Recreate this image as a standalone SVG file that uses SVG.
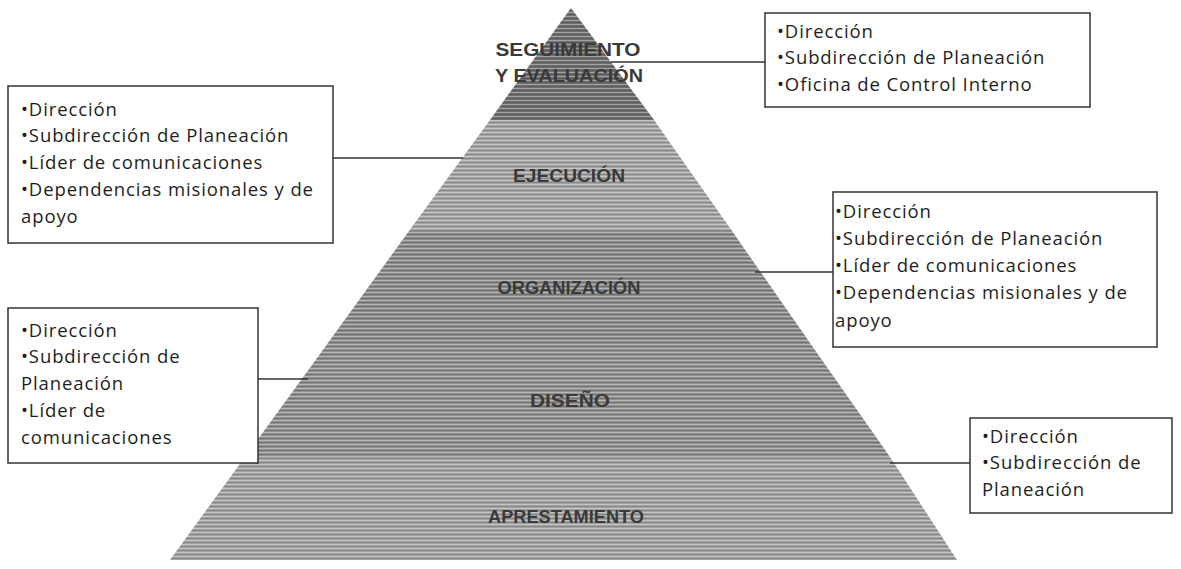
<svg xmlns="http://www.w3.org/2000/svg" width="1181" height="569" viewBox="0 0 1181 569">
<style>
.box{fill:#ffffff;stroke:#333333;stroke-width:1.5}
.bt{font-family:"Open Sans","Liberation Sans",sans-serif;font-size:18.5px;letter-spacing:0.9px;fill:#1e1e1e}
.lbl{font-family:"Liberation Sans",Arial,sans-serif;font-size:18px;font-weight:bold;fill:#3a3a3a;text-anchor:middle}
.con{stroke:#333333;stroke-width:1.5;fill:none}
</style>
<defs>
<pattern id="stripes" width="6" height="4" patternUnits="userSpaceOnUse">
<rect x="0" y="0" width="6" height="1" fill="#ffffff" fill-opacity="0.35"/>
<rect x="0" y="2" width="6" height="1" fill="#000000" fill-opacity="0.18"/>
</pattern>
</defs>
<rect width="1181" height="569" fill="#ffffff"/>
<g id="pyramid">
<g id="layer-seguimiento">
<polygon points="571,8 654,120 490,120" fill="#6f6f6f"/>
<polygon points="571,8 654,120 490,120" fill="url(#stripes)"/>
<text class="lbl" x="568" y="56" textLength="145" lengthAdjust="spacingAndGlyphs">SEGUIMIENTO</text>
<text class="lbl" x="569" y="82" textLength="148" lengthAdjust="spacingAndGlyphs">Y EVALUACIÓN</text>
</g>
<g id="layer-ejecucion">
<polygon points="490,120 654,120 732,231 409,231" fill="#a6a6a6"/>
<polygon points="490,120 654,120 732,231 409,231" fill="url(#stripes)"/>
<text class="lbl" x="569" y="182" textLength="112" lengthAdjust="spacingAndGlyphs">EJECUCIÓN</text>
</g>
<g id="layer-organizacion">
<polygon points="409,231 732,231 810,343 328,343" fill="#8c8c8c"/>
<polygon points="409,231 732,231 810,343 328,343" fill="url(#stripes)"/>
<text class="lbl" x="569" y="294" textLength="143" lengthAdjust="spacingAndGlyphs">ORGANIZACIÓN</text>
</g>
<g id="layer-diseno">
<polygon points="328,343 810,343 890,457 245,457" fill="#8f8f8f"/>
<polygon points="328,343 810,343 890,457 245,457" fill="url(#stripes)"/>
<text class="lbl" x="570" y="407" textLength="80" lengthAdjust="spacingAndGlyphs">DISEÑO</text>
</g>
<g id="layer-aprestamiento">
<polygon points="245,457 890,457 957,560 170,560" fill="#a3a3a3"/>
<polygon points="245,457 890,457 957,560 170,560" fill="url(#stripes)"/>
<text class="lbl" x="566" y="523" textLength="156" lengthAdjust="spacingAndGlyphs">APRESTAMIENTO</text>
</g>
</g>
<g id="connectors">
<line class="con" x1="611" y1="62" x2="765" y2="62"/>
<line class="con" x1="333" y1="158" x2="463" y2="158"/>
<line class="con" x1="755" y1="272" x2="833" y2="272"/>
<line class="con" x1="258" y1="379" x2="308" y2="379"/>
<line class="con" x1="890" y1="463" x2="970" y2="463"/>
</g>
<g id="box-seguimiento">
<rect class="box" x="765" y="13" width="325" height="94"/>
<text class="bt" x="777" y="38">•Dirección</text>
<text class="bt" x="777" y="64">•Subdirección de Planeación</text>
<text class="bt" x="777" y="91">•Oficina de Control Interno</text>
</g>
<g id="box-ejecucion">
<rect class="box" x="8" y="86" width="325" height="157"/>
<text class="bt" x="21" y="116">•Dirección</text>
<text class="bt" x="21" y="142">•Subdirección de Planeación</text>
<text class="bt" x="21" y="169">•Líder de comunicaciones</text>
<text class="bt" x="21" y="196">•Dependencias misionales y de</text>
<text class="bt" x="21" y="223">apoyo</text>
</g>
<g id="box-organizacion">
<rect class="box" x="833" y="192" width="324" height="155"/>
<text class="bt" x="835" y="218">•Dirección</text>
<text class="bt" x="835" y="245">•Subdirección de Planeación</text>
<text class="bt" x="835" y="272">•Líder de comunicaciones</text>
<text class="bt" x="835" y="299">•Dependencias misionales y de</text>
<text class="bt" x="835" y="327">apoyo</text>
</g>
<g id="box-diseno">
<rect class="box" x="8" y="308" width="250" height="155"/>
<text class="bt" x="21" y="337">•Dirección</text>
<text class="bt" x="21" y="363">•Subdirección de</text>
<text class="bt" x="21" y="390">Planeación</text>
<text class="bt" x="21" y="417">•Líder de</text>
<text class="bt" x="21" y="444">comunicaciones</text>
</g>
<g id="box-aprestamiento">
<rect class="box" x="970" y="418" width="202" height="95"/>
<text class="bt" x="982" y="443">•Dirección</text>
<text class="bt" x="982" y="469">•Subdirección de</text>
<text class="bt" x="982" y="496">Planeación</text>
</g>
</svg>
